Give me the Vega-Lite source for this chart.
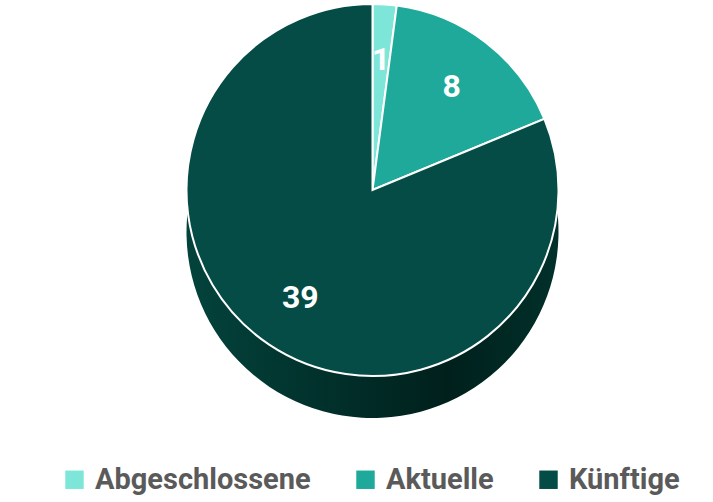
{
  "$schema": "https://vega.github.io/schema/vega-lite/v6.json",
  "width": 713,
  "height": 502,
  "autosize": {"type": "fit", "contains": "padding"},
  "padding": 0,
  "background": "white",
  "view": {"stroke": null},
  "data": {
    "values": [
      {"Status": "Abgeschlossene", "Anzahl": 1, "Reihenfolge": 1},
      {"Status": "Aktuelle", "Anzahl": 8, "Reihenfolge": 2},
      {"Status": "Künftige", "Anzahl": 39, "Reihenfolge": 3}
    ]
  },
  "encoding": {
    "theta": {"field": "Anzahl", "type": "quantitative", "stack": true},
    "order": {"field": "Reihenfolge", "type": "quantitative"}
  },
  "layer": [
    {
      "mark": {
        "type": "arc",
        "outerRadius": 186,
        "xOffset": 16,
        "yOffset": -19,
        "strokeWidth": 0,
        "fill": {
          "gradient": "linear",
          "x1": 0, "x2": 1, "y1": 0, "y2": 0,
          "stops": [
            {"offset": 0, "color": "#03433c"},
            {"offset": 0.7, "color": "#00201c"},
            {"offset": 1, "color": "#01302a"}
          ]
        }
      }
    },
    {
      "mark": {
        "type": "arc",
        "outerRadius": 186,
        "xOffset": 16,
        "yOffset": -61,
        "stroke": "white",
        "strokeWidth": 2
      },
      "encoding": {
        "color": {
          "field": "Status",
          "type": "nominal",
          "sort": ["Abgeschlossene", "Aktuelle", "Künftige"],
          "scale": {
            "domain": ["Abgeschlossene", "Aktuelle", "Künftige"],
            "range": ["#7ee6d9", "#1ea99a", "#044c45"]
          },
          "legend": {
            "title": null,
            "orient": "none",
            "legendX": 60,
            "legendY": 465,
            "direction": "horizontal",
            "symbolType": "square",
            "symbolSize": 340,
            "symbolStrokeWidth": 0,
            "labelFontSize": 29,
            "labelFont": "Roboto, sans-serif",
            "labelFontWeight": "bold",
            "labelColor": "#5a5a5a",
            "labelLimit": 400,
            "labelOffset": 6,
            "columnPadding": 40,
            "symbolOffset": 0
          }
        }
      }
    },
    {
      "mark": {
        "type": "text",
        "radius": 130,
        "xOffset": 16,
        "yOffset": -61,
        "fill": "white",
        "fontSize": 32,
        "fontWeight": "bold",
        "font": "Roboto, sans-serif"
      },
      "encoding": {
        "text": {"field": "Anzahl", "type": "quantitative"}
      }
    }
  ]
}
